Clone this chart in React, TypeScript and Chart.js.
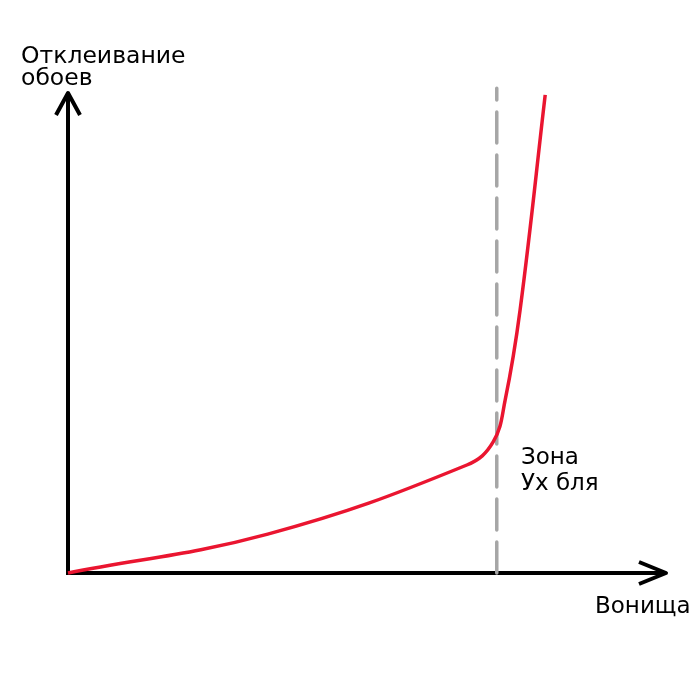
import React, { useEffect, useRef } from "react";
import { Chart, registerables } from "chart.js";

Chart.register(...registerables);

// Data (units on a 0–100 scale for both axes)
const curveX = [0, 33.4, 66.7, 71.1, 73.1, 75.6, 79.8];
const curveY = [0, 8.1, 22.5, 27.3, 36.0, 54.8, 99.6];
const thresholdX = [71.7, 71.7];
const thresholdY = [0, 101];

const yTitle = ["Отклеивание", "обоев"];
const xTitle = "Вонища";
const zoneLabel = ["Зона", "Ух бля"];

const FONT_Y = "23.5px 'DejaVu Sans'";
const FONT = "23px 'DejaVu Sans'";

const axesPlugin = {
  id: "arrowAxes",
  beforeDatasetsDraw(chart: any) {
    const { ctx, scales } = chart;
    const x = scales.x;
    const y = scales.y;
    const x0 = x.getPixelForValue(0);
    const x1 = x.getPixelForValue(100);
    const y0 = y.getPixelForValue(0);
    const y1 = y.getPixelForValue(100);
    ctx.save();
    ctx.strokeStyle = "#000";
    ctx.lineWidth = 4;
    ctx.lineCap = "butt";
    ctx.lineJoin = "round";
    ctx.beginPath();
    ctx.moveTo(x0, y0 + 2);
    ctx.lineTo(x0, y1 + 1);
    ctx.moveTo(x0 - 2, y0);
    ctx.lineTo(x1 - 1, y0);
    ctx.stroke();
    ctx.beginPath();
    ctx.moveTo(x0 - 12, y1 + 22);
    ctx.lineTo(x0, y1);
    ctx.lineTo(x0 + 12, y1 + 22);
    ctx.moveTo(x1 - 27, y0 - 11);
    ctx.lineTo(x1, y0);
    ctx.lineTo(x1 - 27, y0 + 11);
    ctx.stroke();
    ctx.restore();
  },
  afterDraw(chart: any) {
    const { ctx } = chart;
    ctx.save();
    ctx.fillStyle = "#000";
    ctx.textBaseline = "alphabetic";
    ctx.textAlign = "left";
    ctx.font = FONT_Y;
    ctx.fillText(yTitle[0], 21, 63);
    ctx.fillText(yTitle[1], 21, 85);
    ctx.font = FONT;
    ctx.fillText(zoneLabel[0], 521, 464);
    ctx.fillText(zoneLabel[1], 521, 490);
    ctx.fillText(xTitle, 595, 613);
    ctx.restore();
  },
};

export default function App() {
  const ref = useRef<HTMLCanvasElement | null>(null);
  useEffect(() => {
    if (!ref.current) return;
    const chart = new Chart(ref.current, {
      type: "line",
      data: {
        datasets: [
          {
            data: curveX.map((v, i) => ({ x: v, y: curveY[i] })),
            borderColor: "#ea1530",
            borderWidth: 3.5,
            pointRadius: 0,
            tension: 0.4,
            fill: false,
            clip: false as any,
          },
          {
            data: thresholdX.map((v, i) => ({ x: v, y: thresholdY[i] })),
            borderColor: "#a6a6a6",
            borderWidth: 3.5,
            borderDash: [31, 12],
            borderCapStyle: "round",
            pointRadius: 0,
            fill: false,
            clip: false as any,
          },
        ],
      },
      options: {
        responsive: false,
        animation: false,
        layout: { padding: { left: 68, right: 34, top: 93, bottom: 127 } },
        plugins: { legend: { display: false }, tooltip: { enabled: false } },
        scales: {
          x: { type: "linear", min: 0, max: 100, display: false },
          y: { type: "linear", min: 0, max: 100, display: false },
        },
      },
      plugins: [axesPlugin],
    });
    return () => chart.destroy();
  }, []);
  return (
    <div style={{ position: "absolute", left: 0, top: 0, width: 700, height: 700, background: "#fff" }}>
      <canvas ref={ref} width={700} height={700} style={{ display: "block" }} />
    </div>
  );
}
